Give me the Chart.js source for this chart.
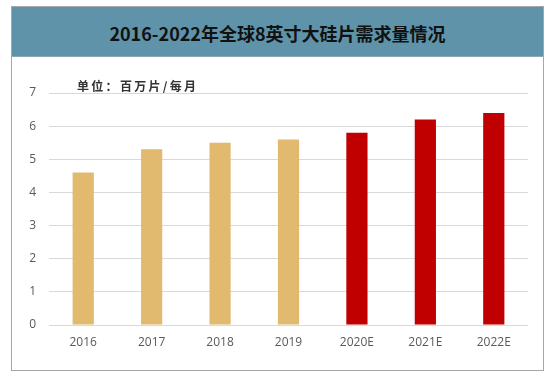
<!DOCTYPE html>
<html><head><meta charset="utf-8">
<script src="https://cdn.jsdelivr.net/npm/chart.js@4"></script>
<style>
html,body{margin:0;padding:0;background:#fff;}
#wrap{position:relative;width:560px;height:378px;overflow:hidden;}
#frame{position:absolute;left:11px;top:6px;width:531px;height:363px;border:1px solid #a6a6a6;box-sizing:content-box;}
#header{position:absolute;left:12px;top:7px;width:531px;height:49px;background:#5e93a9;border-bottom:1px solid #8aa9b6;}
#title{position:absolute;left:12px;top:8px;width:531px;height:50px;line-height:50px;text-align:center;font-family:"Noto Sans CJK SC";font-weight:bold;font-size:18px;color:#111;letter-spacing:0px;}
#unit{position:absolute;left:77px;top:77px;font-family:"Noto Sans CJK SC";font-weight:bold;font-size:12px;color:#333;letter-spacing:2.3px;}
canvas{position:absolute;left:0;top:0;}
</style></head>
<body><div id="wrap">
<div id="frame"></div>
<div id="header"></div>
<div id="title">2016-2022年全球8英寸大硅片需求量情况</div>
<canvas id="c" width="560" height="378"></canvas>
<div id="unit">单位：百万片/每月</div>
</div>
<script>
const categories = ["2016","2017","2018","2019","2020E","2021E","2022E"];
const demand = [4.6, 5.3, 5.5, 5.6, 5.8, 6.2, 6.4];
const barColors = ["#e1b96f","#e1b96f","#e1b96f","#e1b96f","#c00000","#c00000","#c00000"];
const yTicks = [0,1,2,3,4,5,6,7];

new Chart(document.getElementById('c'), {
  type: 'bar',
  data: { labels: categories, datasets: [{ data: demand, backgroundColor: barColors, borderWidth: 0, categoryPercentage: 1, barPercentage: 0.31 }] },
  options: {
    responsive: false, animation: false, devicePixelRatio: 1,
    layout: { padding: { left: 0, top: 93, right: 32, bottom: 17 } },
    plugins: { legend: { display: false }, tooltip: { enabled: false }, title: { display: false } },
    scales: {
      x: {
        grid: { display: false, drawTicks: false },
        border: { display: false },
        ticks: { color: '#595959', font: { family: 'Open Sans', size: 12 }, padding: 10 },
        afterFit: s => { s.height = 36; }
      },
      y: {
        min: 0, max: 7,
        afterBuildTicks: s => { s.ticks = yTicks.map(v => ({ value: v })); },
        grid: { color: '#d9d9d9', lineWidth: 1, drawTicks: false },
        border: { display: false },
        ticks: { color: '#595959', font: { family: 'Open Sans', size: 12 }, padding: 13 },
        afterFit: s => { s.width = 49; }
      }
    }
  }
});
</script>
</body></html>
